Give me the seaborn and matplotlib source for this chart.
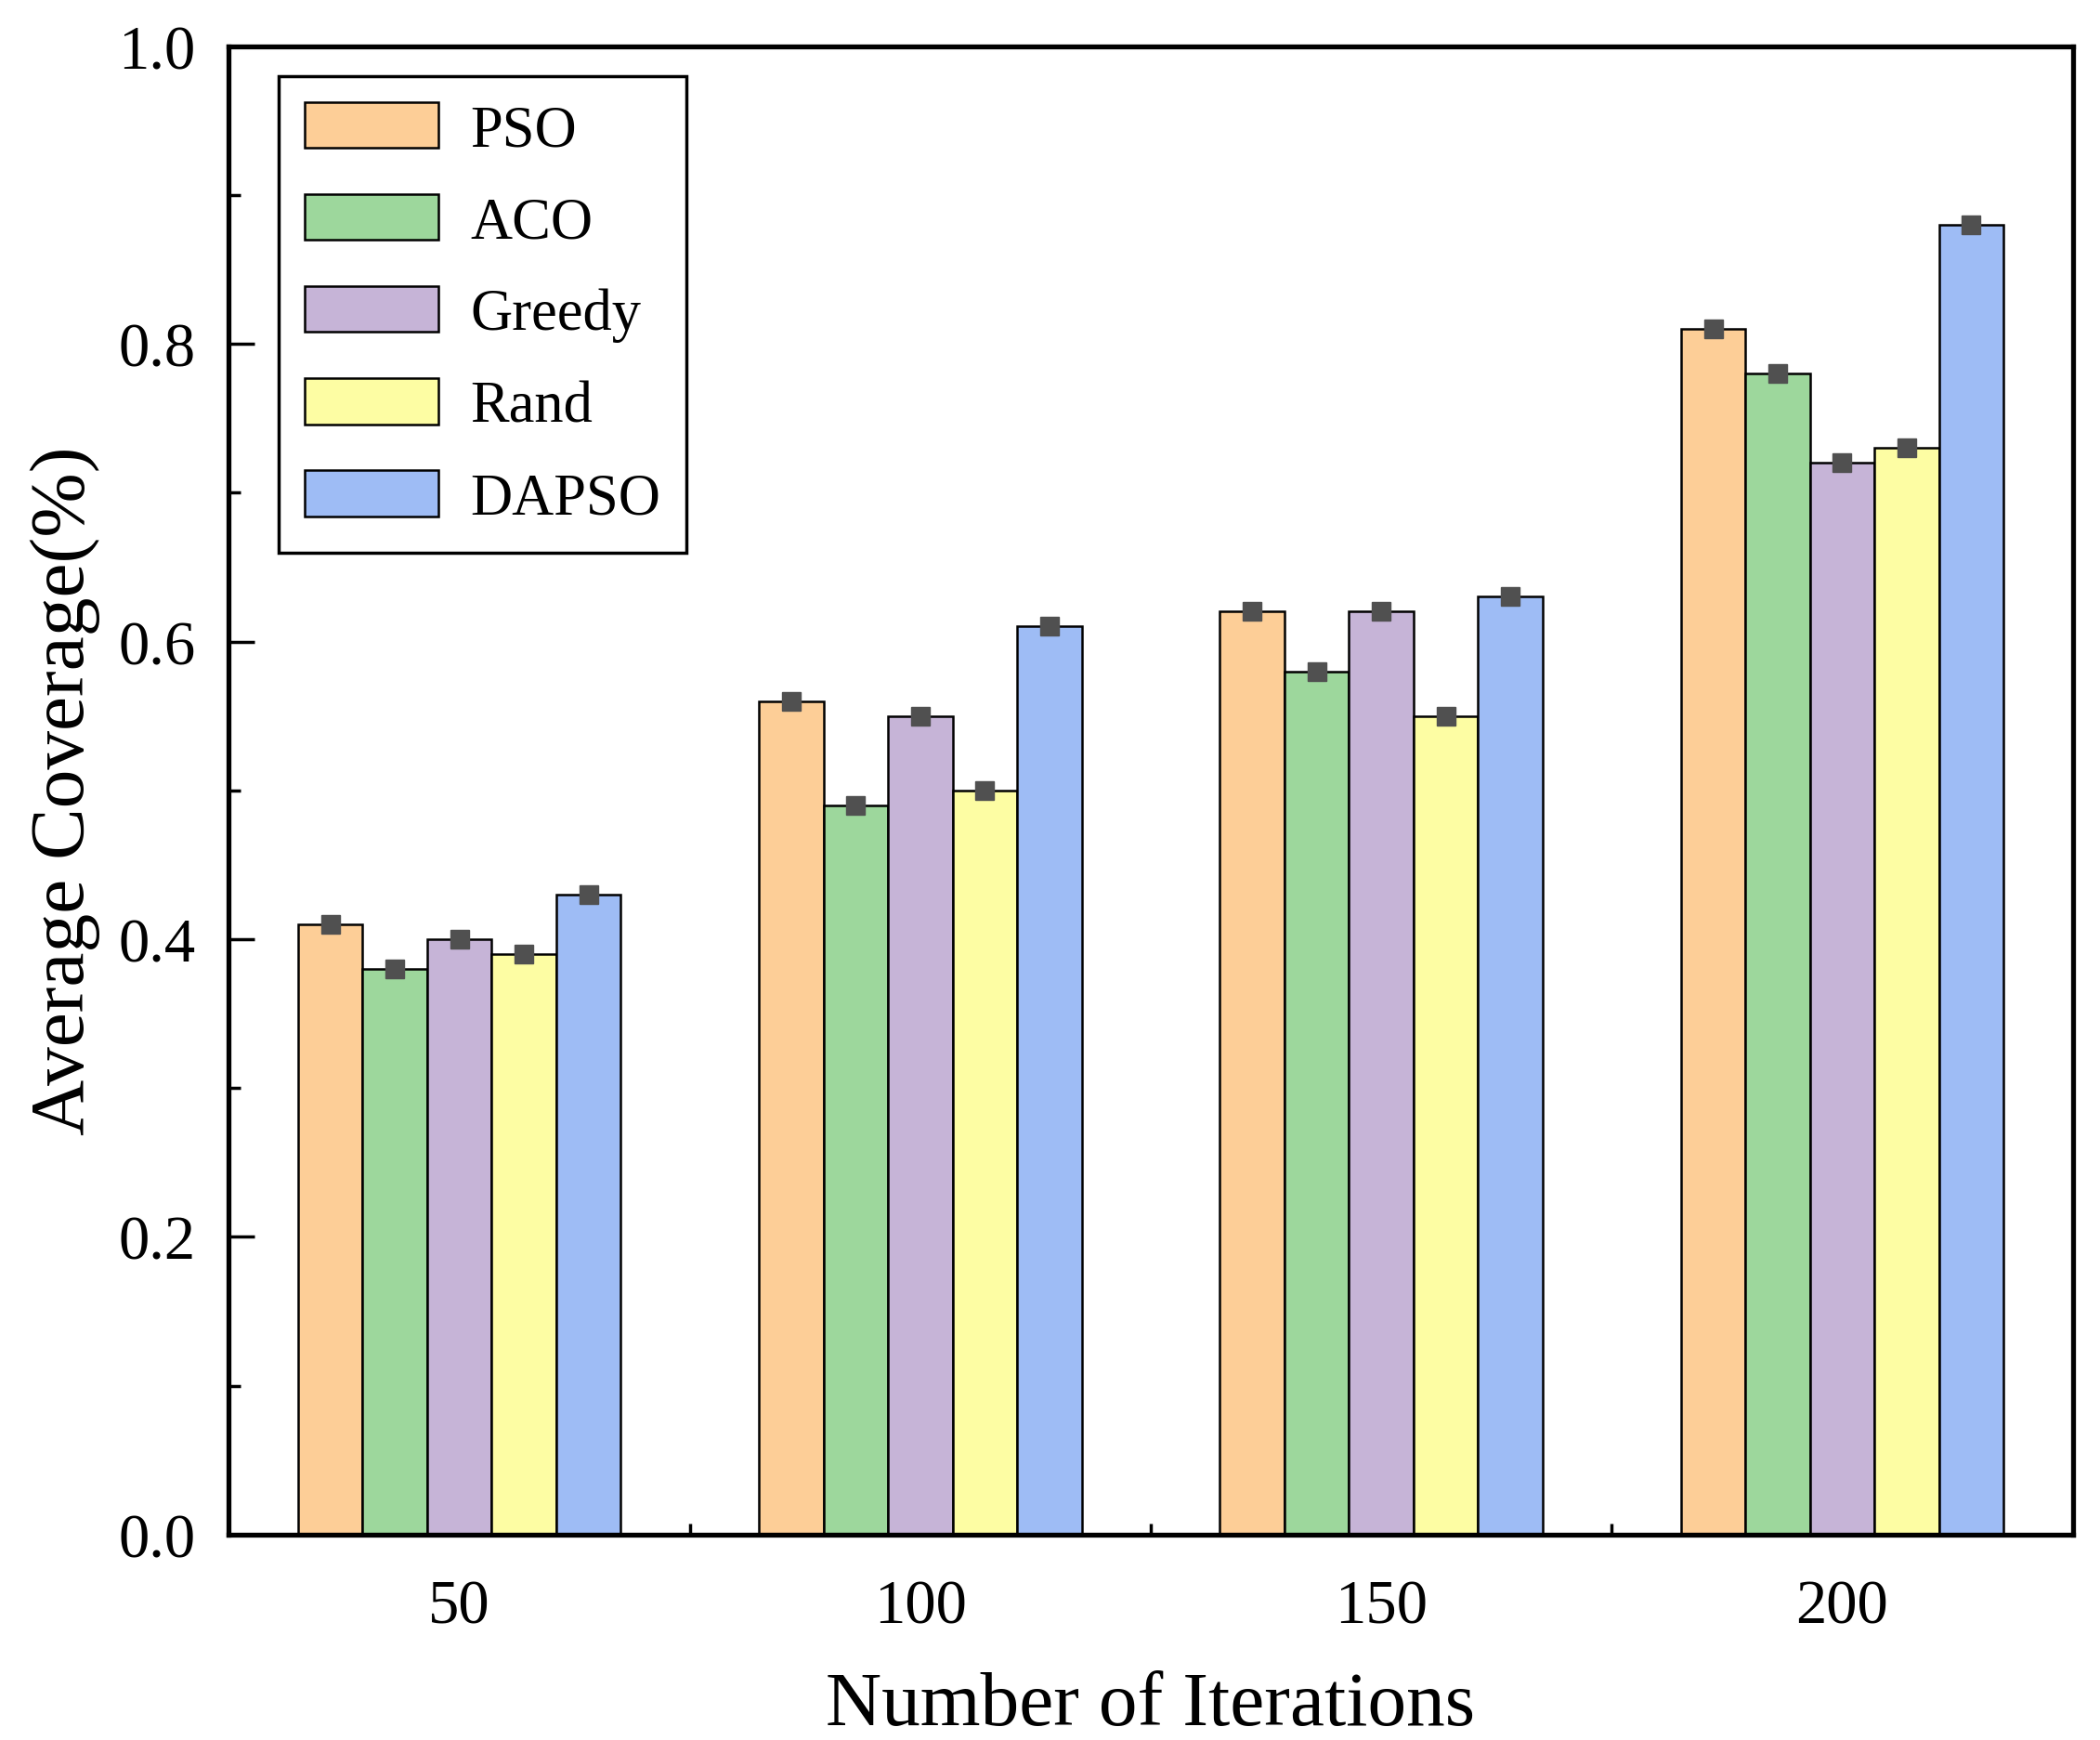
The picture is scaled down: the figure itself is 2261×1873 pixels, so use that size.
import numpy as np
import pandas as pd
import seaborn as sns
import matplotlib.pyplot as plt
from matplotlib import ticker

sns.set_theme(style="white")
plt.rcParams['font.family'] = ['Liberation Serif', 'DejaVu Serif']
plt.rcParams['text.color'] = 'black'
plt.rcParams['axes.labelcolor'] = 'black'
plt.rcParams['xtick.color'] = 'black'
plt.rcParams['ytick.color'] = 'black'

# data
iterations = ["50", "100", "150", "200"]
algorithms = ["PSO", "ACO", "Greedy", "Rand", "DAPSO"]
pso = [0.41, 0.56, 0.62, 0.81]
aco = [0.38, 0.49, 0.58, 0.78]
greedy = [0.40, 0.55, 0.62, 0.72]
rand = [0.39, 0.50, 0.55, 0.73]
dapso = [0.43, 0.61, 0.63, 0.88]
colors = ["#FDCE97", "#9DD79C", "#C6B4D7", "#FDFDA3", "#9EBCF5"]

series = {"PSO": pso, "ACO": aco, "Greedy": greedy, "Rand": rand, "DAPSO": dapso}
rows = []
for algo in algorithms:
    for it, val in zip(iterations, series[algo]):
        rows.append({"iterations": it, "algorithm": algo, "coverage": val})
df = pd.DataFrame(rows)

fig = plt.figure(figsize=(22.61, 18.74), dpi=100)
ax = fig.add_axes([0.109, 0.118, 0.878, 0.855])

sns.barplot(data=df, x="iterations", y="coverage", hue="algorithm",
            order=iterations, hue_order=algorithms, palette=colors,
            width=0.7, errorbar=None, edgecolor="black", linewidth=1.8,
            saturation=1, ax=ax)

# small dark square at the top of every bar
for bar in ax.patches:
    if bar.get_height() > 0:
        ax.plot(bar.get_x() + bar.get_width() / 2, bar.get_height(), marker="s",
                color="#505050", markersize=14, zorder=5)

ax.set_xlim(-0.5, 3.5)
ax.set_ylim(0, 1.0)
ax.yaxis.set_major_locator(ticker.MultipleLocator(0.2))
ax.yaxis.set_minor_locator(ticker.MultipleLocator(0.1))
ax.yaxis.set_major_formatter(ticker.FormatStrFormatter('%.1f'))
ax.xaxis.set_minor_locator(ticker.FixedLocator([0.5, 1.5, 2.5]))

ax.tick_params(axis="both", which="major", direction="in", length=20, width=2.5,
               labelsize=48, color="black", labelcolor="black")
ax.tick_params(axis="both", which="minor", direction="in", length=9, width=2.5,
               color="black")
ax.tick_params(axis="x", which="major", pad=34)
ax.tick_params(axis="y", which="major", pad=26)
ax.tick_params(left=True, bottom=True, which="both")

for spine in ax.spines.values():
    spine.set_visible(True)
    spine.set_color("black")
    spine.set_linewidth(3.8)

ax.set_xlabel("Number of Iterations", fontsize=60, labelpad=28, color="black")
ax.set_ylabel("Average Coverage(%)", fontsize=60, labelpad=14, color="black")

leg = ax.legend(loc="upper left", bbox_to_anchor=(0.027, 0.98), borderaxespad=0,
                fontsize=45, frameon=True, fancybox=False, edgecolor="black",
                handlelength=2.3, handleheight=0.84, labelspacing=0.62,
                handletextpad=0.55, borderpad=0.45)
leg.get_frame().set_linewidth(2.5)
leg.get_frame().set_alpha(1)
for txt in leg.get_texts():
    txt.set_color("black")

fig.savefig("out.png", dpi=100)
